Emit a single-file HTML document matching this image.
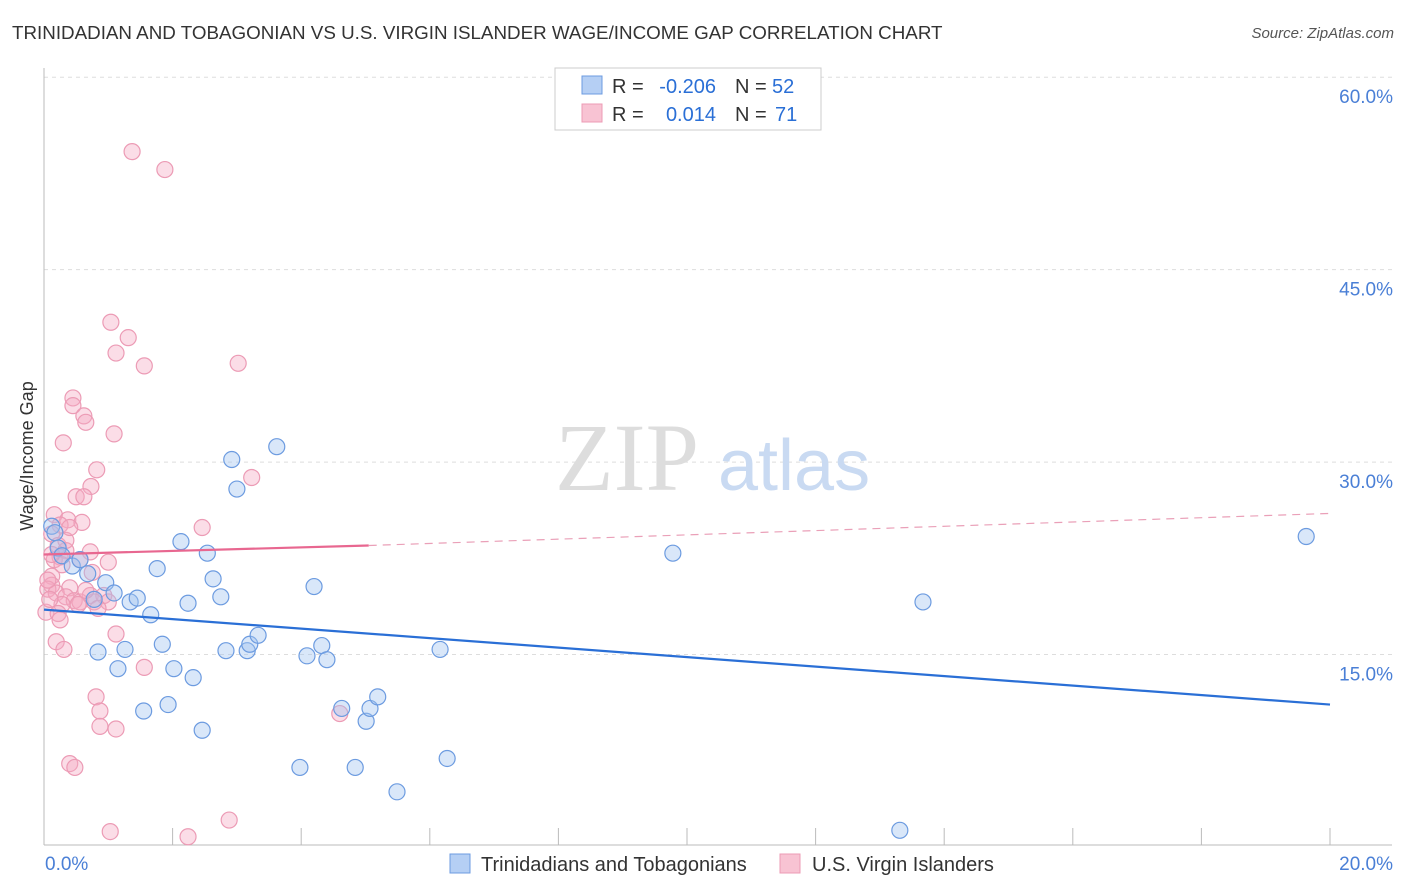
<!DOCTYPE html>
<html><head><meta charset="utf-8">
<style>
body{margin:0;background:#fff;font-family:"Liberation Sans",sans-serif;}
#wrap{position:relative;width:1406px;height:892px;}
.t{position:absolute;white-space:nowrap;}
</style></head>
<body>
<div id="wrap">
<div class="t" style="left:12px;top:22px;font-size:18.8px;color:#333;">TRINIDADIAN AND TOBAGONIAN VS U.S. VIRGIN ISLANDER WAGE/INCOME GAP CORRELATION CHART</div>
<div class="t" style="right:12px;top:25px;font-size:15px;color:#555;font-style:italic;">Source: ZipAtlas.com</div>
<svg id="svg" width="1406" height="892" style="position:absolute;left:0;top:0"></svg>
</div>
<script>
const xTicks=[0,2,4,6,8,10,12,14,16,18,20];
const yTicks=[15,30,45,60];
const blueX=[0.12,0.17,0.22,0.28,0.44,0.56,0.68,0.78,0.84,0.96,1.09,1.15,1.26,1.34,1.45,1.55,1.66,1.76,1.84,1.93,2.02,2.13,2.24,2.32,2.46,2.54,2.63,2.75,2.83,2.92,3.0,3.16,3.2,3.33,3.62,3.98,4.09,4.2,4.32,4.4,4.63,4.84,5.01,5.07,5.19,5.49,6.16,6.27,9.78,13.31,13.67,19.63];
const blueY=[25.0,24.5,23.3,22.7,21.9,22.4,21.3,19.3,15.2,20.6,19.8,13.9,15.4,19.1,19.4,10.6,18.1,21.7,15.8,11.1,13.9,23.8,19.0,13.2,9.1,22.9,20.9,19.5,15.3,30.2,27.9,15.3,15.8,16.5,31.2,6.2,14.9,20.3,15.7,14.6,10.8,6.2,9.8,10.8,11.7,4.3,15.4,6.9,22.9,1.3,19.1,24.2];
const pinkX=[1.37,1.88,1.04,1.31,1.12,1.56,3.02,0.45,0.45,0.62,0.65,1.09,0.30,0.82,3.23,0.73,0.50,0.62,2.46,0.16,0.37,0.59,0.25,0.12,0.22,0.34,0.72,0.25,0.56,1.0,0.75,0.12,0.12,0.06,0.40,0.19,0.34,0.72,0.93,0.47,0.56,1.0,0.28,0.03,0.22,1.12,0.19,0.31,1.56,0.81,0.87,0.87,1.12,4.60,0.40,0.48,1.03,2.24,2.88,0.09,0.16,0.34,0.53,0.78,0.06,0.28,0.40,0.65,0.84,0.25,0.12];
const pinkY=[54.2,52.8,40.9,39.7,38.5,37.5,37.7,35.0,34.4,33.6,33.1,32.2,31.5,29.4,28.8,28.1,27.3,27.3,24.9,25.9,25.5,25.3,25.1,24.4,23.5,23.1,23.0,22.6,22.4,22.2,21.4,21.1,20.4,20.1,20.2,19.8,19.5,19.6,19.6,19.2,19.1,19.1,18.9,18.3,18.2,16.6,16.0,15.4,14.0,11.7,10.6,9.4,9.2,10.4,6.5,6.2,1.2,0.8,2.1,19.3,22.4,23.9,18.9,19.1,20.8,22.0,24.9,20.0,18.6,17.7,22.8];
const blueTrend=[[0,18.5],[20,11.1]];
const pinkTrend=[[0,22.8],[5.05,23.5],[20,26.0]];
const X=v=>44+v*64.3, Y=v=>847-v*12.83;
const svg=document.getElementById('svg');const NS='http://www.w3.org/2000/svg';
function mk(t,a,p){const e=document.createElementNS(NS,t);for(const k in a)e.setAttribute(k,a[k]);(p||svg).appendChild(e);return e;}
yTicks.forEach(v=>{const l=mk('line',{x1:44,x2:1392,y1:Y(v),y2:Y(v),stroke:'#ddd','stroke-dasharray':'4,4'});

const t=mk('text',{x:1393,y:Y(v)+26,'text-anchor':'end','font-size':19,fill:'#4a7fd6','font-family':'Liberation Sans'});t.textContent=v.toFixed(1)+'%';
});
let ax=mk('line',{x1:44,x2:44,y1:68,y2:845,stroke:'#bbb'});
ax=mk('line',{x1:44,x2:1392,y1:845,y2:845,stroke:'#bbb'});
xTicks.forEach(v=>{const l=mk('line',{x1:X(v),x2:X(v),y1:828,y2:845,stroke:'#bbb'});});
[[0,45,'start'],[20,1393,'end']].forEach(([v,x,a])=>{const t=mk('text',{x:x,y:870,'text-anchor':a,'font-size':19,fill:'#4a7fd6','font-family':'Liberation Sans'});t.textContent=v.toFixed(1)+'%';});
let yt=mk('text',{x:0,y:0,transform:'translate(33,456) rotate(-90)','text-anchor':'middle','font-size':18,fill:'#333','font-family':'Liberation Sans'});yt.textContent='Wage/Income Gap';
let wm=mk('text',{x:555,y:490,'font-size':96,fill:'#ddd','font-family':'Liberation Serif'});wm.textContent='ZIP';
wm=mk('text',{x:718,y:490,'font-size':72,fill:'#c9daf2','font-family':'Liberation Sans'});wm.textContent='atlas';
pinkX.forEach((x,i)=>{const c=mk('circle',{cx:X(x),cy:Y(pinkY[i]),r:8,fill:'rgba(244,170,195,0.4)',stroke:'#ec9bb5','stroke-width':1.2});});
blueX.forEach((x,i)=>{const c=mk('circle',{cx:X(x),cy:Y(blueY[i]),r:8,fill:'rgba(160,195,240,0.4)',stroke:'#6c9be0','stroke-width':1.2});});
let tl=mk('line',{x1:X(blueTrend[0][0]),y1:Y(blueTrend[0][1]),x2:X(blueTrend[1][0]),y2:Y(blueTrend[1][1]),stroke:'#2a6fd6','stroke-width':2.2});
tl=mk('line',{x1:X(pinkTrend[0][0]),y1:Y(pinkTrend[0][1]),x2:X(pinkTrend[1][0]),y2:Y(pinkTrend[1][1]),stroke:'#e86790','stroke-width':2.2});
tl=mk('line',{x1:X(pinkTrend[1][0]),y1:Y(pinkTrend[1][1]),x2:X(pinkTrend[2][0]),y2:Y(pinkTrend[2][1]),stroke:'#eaa0b8','stroke-width':1.2,'stroke-dasharray':'8,6'});
let g=mk('g',{});
mk('rect',{x:555,y:68,width:266,height:62,fill:'#fff',stroke:'#ccc'},g);
mk('rect',{x:582,y:76,width:20,height:18,fill:'#b5cff4',stroke:'#6c9be0'},g);
mk('rect',{x:582,y:104,width:20,height:18,fill:'#f8c3d3',stroke:'#ec9bb5'},g);
function tx(x,y,s,c,a){const t=mk('text',{x:x,y:y,'font-size':20,fill:c,'font-family':'Liberation Sans','text-anchor':a||'start'},g);t.textContent=s;return t;}
tx(612,93,'R =','#333');tx(716,93,'-0.206','#2a6fd6','end');tx(735,93,'N =','#333');tx(772,93,'52','#2a6fd6');
tx(612,121,'R =','#333');tx(716,121,'0.014','#2a6fd6','end');tx(735,121,'N =','#333');tx(775,121,'71','#2a6fd6');
g=mk('g',{});
mk('rect',{x:450,y:854,width:20,height:19,fill:'#b5cff4',stroke:'#6c9be0'},g);
tx(481,871,'Trinidadians and Tobagonians','#333');
mk('rect',{x:780,y:854,width:20,height:19,fill:'#f8c3d3',stroke:'#ec9bb5'},g);
tx(812,871,'U.S. Virgin Islanders','#333');
</script>
</body></html>
